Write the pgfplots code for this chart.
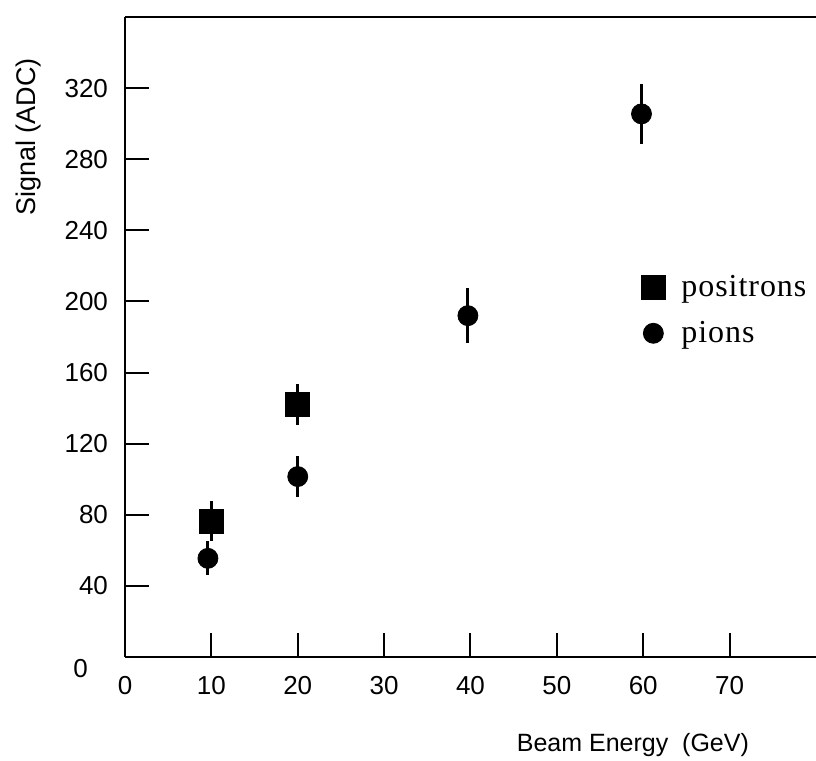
\documentclass[border=0pt]{standalone}
\usepackage{fontspec}
\setmainfont{Liberation Serif}
\setsansfont{Liberation Sans}
\usepackage{pgfplots}
\pgfplotsset{compat=1.18}
\begin{document}
\begin{tikzpicture}
\path[use as bounding box] (-62.5pt,-52pt) rectangle (345.5pt,328.5pt);
\begin{axis}[
  scale only axis, width=345.5pt, height=320pt,
  xmin=0, xmax=80, ymin=0, ymax=360,
  axis x line*=bottom, axis y line*=left,
  axis line style={line width=1.3pt},
  tick align=inside, major tick length=12pt,
  tick style={line width=1pt, black},
  xtick={10,20,...,70}, ytick={40,80,...,320},
  extra x ticks={0}, extra y ticks={0},
  extra tick style={major tick length=0pt},
  extra y tick style={yticklabel style={xshift=-10pt, yshift=-6pt}},
  ticklabel style={font=\sffamily\fontsize{13}{15}\selectfont},
  /pgf/number format/assume math mode=true,
  xticklabel style={yshift=-6pt},
  yticklabel style={xshift=-5pt},
  xlabel={Beam Energy\ \ (GeV)},
  xlabel style={font=\sffamily\fontsize{12.5}{15}\selectfont,
    at={(axis description cs:0.735,-0.1375)}, anchor=center},
  ylabel={Signal (ADC)},
  ylabel style={font=\sffamily\fontsize{13.5}{15}\selectfont,
    at={(axis description cs:-0.14,0.8125)}, anchor=center, rotate=0},
  clip=false,
  legend style={draw=none, fill=none,
    font=\fontsize{16}{18}\selectfont\addfontfeature{LetterSpace=3},
    at={(axis description cs:0.738,0.61)}, anchor=north west,
    row sep=7pt, column sep=6pt},
  legend cell align=left,
]
\addplot[only marks, mark=square*, mark size=6pt, black,
  error bars/.cd, y dir=both, y explicit, error mark=none,
  error bar style={line width=1.5pt}]
  coordinates {(10,76.5) +- (0,11) (20,142) +- (0,11.5)};
\addlegendentry{positrons}
\addplot[only marks, mark=*, mark size=5pt, black,
  error bars/.cd, y dir=both, y explicit, error mark=none,
  error bar style={line width=1.5pt}]
  coordinates {(9.6,55.5) +- (0,9.5) (20,101.5) +- (0,11.5)
    (39.7,192) +- (0,15.5) (59.8,305.5) +- (0,17)};
\addlegendentry{pions}
\draw[line width=1.3pt] (rel axis cs:0,1) -- (rel axis cs:1,1);
\end{axis}
\end{tikzpicture}
\end{document}
